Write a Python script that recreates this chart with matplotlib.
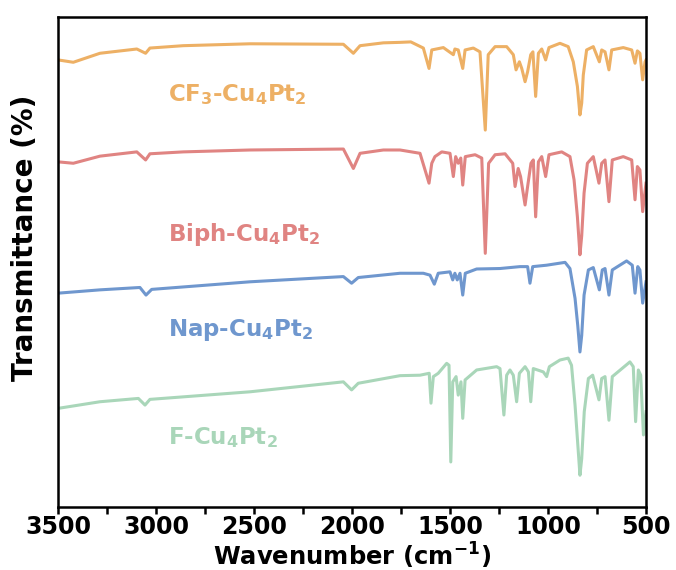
import matplotlib
matplotlib.use("Agg")
import matplotlib.pyplot as plt
from matplotlib.ticker import MultipleLocator

plt.rcParams['font.family'] = 'DejaVu Sans'
plt.rcParams['font.weight'] = 'bold'
plt.rcParams['mathtext.fontset'] = 'dejavusans'
plt.rcParams['mathtext.default'] = 'bf'

# FTIR spectra, stacked (arbitrary transmittance units with offsets)
cf3_wn = [3500, 3422, 3286, 3098, 3053, 3031, 2861, 2520, 2044, 1993, 1959, 1840, 1755, 1700,
          1636, 1607, 1593, 1534, 1483, 1475, 1458, 1435, 1423, 1381, 1347, 1320, 1305, 1270,
          1211, 1177, 1163, 1146, 1134, 1117, 1104, 1088, 1077, 1063, 1049, 1032, 1012, 995,
          939, 897, 871, 850, 837, 828, 820, 803, 769, 738, 726, 709, 689, 675, 616, 573,
          556, 544, 531, 517, 505, 500]
cf3_t = [90.1, 89.6, 91.5, 92.4, 91.5, 92.6, 93.1, 93.5, 93.4, 91.5, 93.1, 93.7, 93.8, 93.9,
         92.6, 88.3, 92.2, 92.7, 91.2, 92.4, 92.2, 88.3, 92.2, 92.6, 91.8, 75.3, 91.2, 92.9,
         92.9, 91.2, 88.0, 89.7, 88.3, 85.5, 87.6, 91.2, 91.8, 82.4, 91.5, 92.4, 90.1, 92.7,
         93.6, 92.9, 89.7, 84.5, 78.5, 81.0, 86.9, 92.2, 92.9, 89.7, 92.2, 91.8, 88.0, 92.2, 92.7, 92.2,
         89.4, 92.0, 91.5, 85.9, 89.7, 90.1]

biph_wn = [3500, 3422, 3286, 3098, 3053, 3031, 2861, 2520, 2044, 1993, 1959, 1840, 1755, 1653,
           1607, 1593, 1577, 1542, 1500, 1483, 1471, 1458, 1445, 1435, 1422, 1372, 1338, 1320,
           1303, 1270, 1219, 1180, 1168, 1152, 1140, 1117, 1104, 1087, 1075, 1063, 1049, 1032,
           1012, 995, 930, 888, 867, 850, 837, 828, 816, 799, 769, 740, 726, 709, 689, 672, 616,
           573, 556, 544, 531, 517, 500]
biph_t = [68.6, 68.3, 69.8, 70.7, 69.0, 70.3, 70.7, 71.1, 71.3, 67.2, 70.4, 71.1, 71.1, 70.4,
          64.1, 68.3, 69.7, 70.7, 70.4, 65.5, 69.7, 68.3, 69.4, 63.7, 69.7, 70.1, 69.4, 49.3,
          68.3, 70.1, 70.3, 68.3, 63.4, 67.2, 65.5, 59.5, 63.4, 68.3, 69.0, 57.0, 68.6, 69.7,
          65.5, 70.1, 70.7, 69.7, 64.8, 57.0, 49.0, 53.0, 62.0, 68.3, 69.7, 64.1, 68.3, 69.0, 60.2, 69.0, 69.7,
          69.0, 60.6, 67.6, 66.9, 58.1, 64.1]

nap_wn = [3500, 3286, 3082, 3051, 3022, 2520, 2044, 2002, 1968, 1755, 1636, 1602, 1580, 1560,
          1500, 1486, 1475, 1463, 1449, 1435, 1422, 1364, 1245, 1143, 1104, 1092, 1078, 1007,
          913, 888, 862, 848, 837, 828, 816, 794, 769, 738, 723, 709, 689, 672, 599, 570, 556,
          542, 531, 517, 500]
nap_t = [40.9, 41.6, 42.1, 40.5, 41.7, 43.3, 44.4, 43.0, 44.2, 45.1, 45.1, 44.7, 42.8, 45.1,
         45.4, 43.7, 45.1, 43.7, 45.1, 40.5, 45.1, 46.0, 46.1, 46.5, 46.5, 43.0, 46.5, 46.8,
         47.4, 46.1, 39.8, 34.0, 28.5, 32.0, 40.5, 45.8, 46.3, 41.6, 45.8, 46.1, 40.5, 45.8, 47.7, 46.8, 40.9,
         46.5, 45.8, 38.8, 43.3]

f_wn = [3500, 3286, 3090, 3056, 3031, 2520, 2044, 2002, 1968, 1755, 1653, 1606, 1597, 1585,
        1560, 1517, 1505, 1496, 1486, 1469, 1458, 1444, 1435, 1423, 1364, 1262, 1245, 1225,
        1211, 1194, 1177, 1160, 1146, 1117, 1100, 1088, 1075, 1024, 1007, 993, 939, 897, 880,
        862, 848, 837, 828, 815, 794, 772, 740, 726, 709, 689, 672, 582, 565, 553, 539, 527, 513, 500]
f_t = [16.6, 18.0, 18.7, 17.3, 18.5, 20.1, 22.2, 20.5, 21.9, 23.5, 23.6, 24.0, 17.7, 23.3,
       24.0, 26.1, 25.7, 5.3, 22.2, 23.3, 19.4, 22.2, 14.5, 22.6, 24.7, 25.4, 25.0, 15.2,
       23.6, 24.7, 23.6, 18.0, 24.0, 25.4, 24.3, 18.0, 25.0, 24.3, 23.3, 25.4, 26.8, 27.2, 25.7,
       17.3, 9.0, 2.5, 6.0, 15.9, 22.9, 23.6, 18.4, 22.9, 23.3, 14.1, 23.3, 26.4, 25.4, 13.8, 24.7, 23.6, 11.0, 15.9]

names = ['CF$_3$-Cu$_4$Pt$_2$', 'Biph-Cu$_4$Pt$_2$', 'Nap-Cu$_4$Pt$_2$', 'F-Cu$_4$Pt$_2$']
colors = ['#EDB065', '#E08482', '#6F97CE', '#A9D6B9']
label_y = [82.7, 53.2, 33.1, 10.5]

fig = plt.figure(figsize=(6.76, 5.70), dpi=100)
ax = fig.add_axes([58 / 676, 1 - 507 / 570, 588 / 676, 490 / 570])

spectra = [(cf3_wn, cf3_t), (biph_wn, biph_t), (nap_wn, nap_t), (f_wn, f_t)]
for (wn, t), nam, c, ly in zip(spectra, names, colors, label_y):
    ax.plot(wn, t, '-', color=c, lw=2.2, solid_joinstyle='round')
    ax.text(2939, ly, nam, color=c, fontsize=16.5, fontweight='bold',
            ha='left', va='center')

ax.set_xlim(3500, 500)
ax.set_ylim(-4.2, 99.15)
ax.xaxis.set_major_locator(MultipleLocator(500))
ax.xaxis.set_minor_locator(MultipleLocator(250))
ax.set_yticks([])
ax.tick_params(axis='x', which='both', direction='out', length=5, width=1.8,
               labelsize=17, pad=1)
for lab in ax.get_xticklabels():
    lab.set_fontweight('bold')
for s in ax.spines.values():
    s.set_linewidth(1.8)

ax.set_xlabel('Wavenumber (cm$^{-1}$)', fontsize=17.5, fontweight='bold')
ax.xaxis.set_label_coords(0.5, -0.069)
ax.set_ylabel('Transmittance (%)', fontsize=20, fontweight='bold')
ax.yaxis.set_label_coords(-0.032, 0.55)

fig.savefig('out.png', dpi=100)
